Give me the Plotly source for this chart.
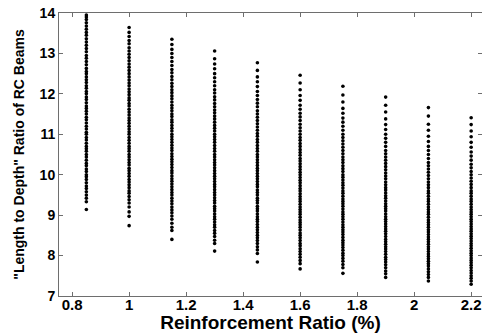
import plotly.graph_objects as go

# Reinforcement ratio (%) for each column of points
ratios = [0.85, 1.0, 1.15, 1.3, 1.45, 1.6, 1.75, 1.9, 2.05, 2.2]

# "Length to Depth" ratio values read from each column
ld_085 = [9.14, 9.33, 9.42, 9.5, 9.58, 9.66, 9.72, 9.8, 9.88, 9.95, 10.0, 10.08, 10.14, 10.22, 10.28,
          10.36, 10.44, 10.5, 10.58, 10.64, 10.7, 10.78, 10.86, 10.92, 11.0, 11.05, 11.13, 11.2, 11.28,
          11.36, 11.42, 11.5, 11.57, 11.64, 11.7, 11.78, 11.86, 11.92, 12.0, 12.06, 12.14, 12.2, 12.28,
          12.35, 12.42, 12.5, 12.55, 12.63, 12.72, 12.8, 12.88, 12.95, 13.04, 13.12, 13.2, 13.28,
          13.36, 13.45, 13.52, 13.6, 13.68, 13.76, 13.84, 13.9, 13.95]
ld_100 = [8.74, 8.97, 9.08, 9.2, 9.3, 9.38, 9.46, 9.54, 9.6, 9.68, 9.75, 9.82, 9.88, 9.96, 10.03, 10.1,
          10.16, 10.24, 10.3, 10.37, 10.44, 10.5, 10.58, 10.64, 10.7, 10.78, 10.85, 10.92, 11.0, 11.06,
          11.13, 11.2, 11.27, 11.34, 11.4, 11.48, 11.55, 11.62, 11.7, 11.76, 11.84, 11.9, 11.98, 12.05,
          12.12, 12.2, 12.27, 12.34, 12.42, 12.5, 12.58, 12.66, 12.74, 12.82, 12.9, 12.98, 13.06,
          13.14, 13.24, 13.32, 13.42, 13.52, 13.64]
ld_115 = [8.4, 8.62, 8.7, 8.8, 8.9, 8.98, 9.06, 9.13, 9.2, 9.28, 9.35, 9.42, 9.5, 9.56, 9.63, 9.7,
          9.77, 9.84, 9.9, 9.97, 10.04, 10.1, 10.18, 10.25, 10.32, 10.38, 10.45, 10.52, 10.6, 10.66,
          10.73, 10.8, 10.87, 10.94, 11.0, 11.08, 11.15, 11.22, 11.3, 11.36, 11.44, 11.5, 11.58, 11.65,
          11.72, 11.8, 11.88, 11.95, 12.03, 12.1, 12.18, 12.26, 12.35, 12.43, 12.52, 12.6, 12.7,
          12.8, 12.9, 13.0, 13.1, 13.22, 13.35]
ld_130 = [8.11, 8.3, 8.38, 8.47, 8.55, 8.62, 8.7, 8.76, 8.83, 8.9, 8.96, 9.03, 9.1, 9.16, 9.22, 9.3,
          9.36, 9.43, 9.5, 9.56, 9.63, 9.7, 9.76, 9.83, 9.9, 9.96, 10.03, 10.1, 10.17, 10.24, 10.3,
          10.37, 10.44, 10.5, 10.58, 10.65, 10.72, 10.8, 10.87, 10.94, 11.0, 11.08, 11.15, 11.22,
          11.3, 11.38, 11.45, 11.53, 11.6, 11.68, 11.76, 11.85, 11.93, 12.02, 12.1, 12.2, 12.3,
          12.4, 12.5, 12.62, 12.74, 12.87, 13.06]
ld_145 = [7.84, 8.05, 8.14, 8.22, 8.3, 8.37, 8.44, 8.5, 8.57, 8.64, 8.7, 8.77, 8.84, 8.9, 8.96,
          9.03, 9.1, 9.16, 9.22, 9.3, 9.36, 9.42, 9.5, 9.56, 9.62, 9.7, 9.76, 9.83, 9.9, 9.96, 10.03,
          10.1, 10.16, 10.23, 10.3, 10.37, 10.44, 10.5, 10.58, 10.65, 10.72, 10.8, 10.87, 10.95,
          11.02, 11.1, 11.18, 11.26, 11.34, 11.42, 11.5, 11.58, 11.68, 11.77, 11.86, 11.96, 12.06,
          12.18, 12.3, 12.42, 12.58, 12.77]
ld_160 = [7.67, 7.8, 7.88, 7.96, 8.03, 8.1, 8.17, 8.24, 8.3, 8.37, 8.44, 8.5, 8.56, 8.63, 8.7, 8.76,
          8.82, 8.88, 8.95, 9.02, 9.08, 9.14, 9.2, 9.27, 9.34, 9.4, 9.46, 9.53, 9.6, 9.66, 9.73, 9.8,
          9.86, 9.93, 10.0, 10.06, 10.13, 10.2, 10.27, 10.34, 10.4, 10.48, 10.55, 10.62, 10.7, 10.77,
          10.85, 10.92, 11.0, 11.08, 11.16, 11.25, 11.34, 11.43, 11.52, 11.62, 11.72, 11.84, 11.96,
          12.1, 12.27, 12.46]
ld_175 = [7.56, 7.7, 7.78, 7.86, 7.93, 8.0, 8.06, 8.13, 8.2, 8.26, 8.32, 8.38, 8.45, 8.52, 8.58,
          8.64, 8.7, 8.76, 8.83, 8.9, 8.96, 9.02, 9.08, 9.15, 9.22, 9.28, 9.34, 9.4, 9.47, 9.54, 9.6,
          9.67, 9.74, 9.8, 9.87, 9.94, 10.0, 10.08, 10.15, 10.22, 10.3, 10.37, 10.44, 10.52, 10.6,
          10.68, 10.76, 10.84, 10.92, 11.0, 11.1, 11.2, 11.3, 11.4, 11.52, 11.64, 11.8, 11.97, 12.19]
ld_190 = [7.46, 7.55, 7.62, 7.7, 7.77, 7.84, 7.9, 7.96, 8.03, 8.1, 8.16, 8.22, 8.28, 8.34, 8.4,
          8.47, 8.54, 8.6, 8.66, 8.72, 8.78, 8.84, 8.9, 8.96, 9.03, 9.1, 9.16, 9.22, 9.28, 9.35, 9.42,
          9.48, 9.55, 9.62, 9.68, 9.75, 9.82, 9.9, 9.97, 10.04, 10.12, 10.2, 10.28, 10.36, 10.44,
          10.52, 10.6, 10.7, 10.8, 10.9, 11.0, 11.12, 11.24, 11.38, 11.55, 11.72, 11.92]
ld_205 = [7.37, 7.46, 7.53, 7.6, 7.67, 7.74, 7.8, 7.86, 7.92, 7.98, 8.04, 8.1, 8.16, 8.22, 8.28,
          8.34, 8.4, 8.46, 8.52, 8.58, 8.64, 8.7, 8.76, 8.82, 8.88, 8.95, 9.02, 9.08, 9.14, 9.2, 9.27,
          9.34, 9.4, 9.47, 9.54, 9.6, 9.68, 9.75, 9.82, 9.9, 9.98, 10.06, 10.14, 10.22, 10.3, 10.4,
          10.5, 10.6, 10.7, 10.82, 10.95, 11.1, 11.25, 11.45, 11.66]
ld_220 = [7.29, 7.37, 7.44, 7.5, 7.57, 7.63, 7.7, 7.76, 7.82, 7.88, 7.94, 8.0, 8.06, 8.12, 8.18,
          8.24, 8.3, 8.36, 8.42, 8.48, 8.54, 8.6, 8.66, 8.72, 8.78, 8.84, 8.9, 8.96, 9.02, 9.08, 9.14,
          9.2, 9.27, 9.34, 9.4, 9.47, 9.54, 9.6, 9.68, 9.76, 9.84, 9.92, 10.0, 10.08, 10.17, 10.26,
          10.36, 10.46, 10.56, 10.68, 10.8, 10.94, 11.08, 11.24, 11.41]

columns = [ld_085, ld_100, ld_115, ld_130, ld_145, ld_160, ld_175, ld_190, ld_205, ld_220]

xs, ys = [], []
for r, col in zip(ratios, columns):
    xs.extend([r] * len(col))
    ys.extend(col)

fig = go.Figure(go.Scatter(
    x=xs, y=ys, mode="markers",
    marker=dict(color="black", size=3.6, line=dict(width=0)),
    showlegend=False,
))

font_main = "Liberation Sans, Arial, sans-serif"
axis_common = dict(
    showline=True, linecolor="#6e6e6e", linewidth=1, mirror="ticks",
    ticks="inside", ticklen=4, tickcolor="#6e6e6e",
    showgrid=False, zeroline=False,
)

fig.update_layout(
    width=482, height=333,
    margin=dict(l=59, r=0, t=13, b=37),
    paper_bgcolor="white", plot_bgcolor="white",
    xaxis=dict(range=[0.754, 2.238], tickvals=[0.8, 1.0, 1.2, 1.4, 1.6, 1.8, 2.0, 2.2],
               ticktext=["0.8", "1", "1.2", "1.4", "1.6", "1.8", "2", "2.2"],
               ticklabelstandoff=-5,
               tickfont=dict(family=font_main, size=15, color="black", weight="bold"),
               title=dict(text="Reinforcement Ratio (%)", standoff=0,
                          font=dict(family=font_main, size=19, color="black", weight="bold")),
               **axis_common),
    yaxis=dict(range=[7, 14], tickvals=[7, 8, 9, 10, 11, 12, 13, 14],
               tickfont=dict(family=font_main, size=14, color="black", weight="bold"),
               title=dict(text="\"Length to Depth\" Ratio of RC Beams", standoff=11,
                          font=dict(family=font_main, size=14, color="black", weight="bold")),
               **axis_common),
)

fig.write_html("out.html")
